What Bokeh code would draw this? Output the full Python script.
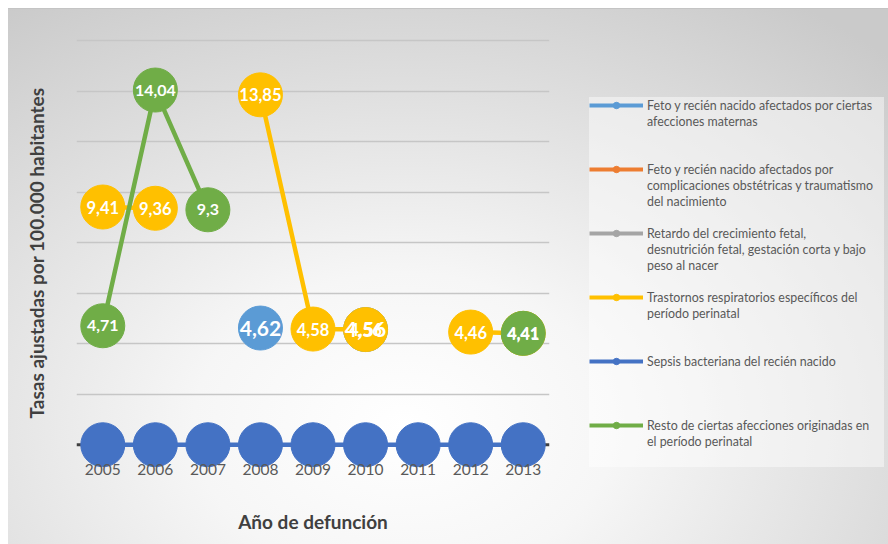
import math
from bokeh.plotting import figure
from bokeh.layouts import row
from bokeh.models import (FactorRange, Range1d, Span, Legend, LegendItem,
                          ColumnDataSource, FixedTicker)
from bokeh.core.properties import value
from bokeh.embed import file_html
from bokeh.resources import INLINE

nan = float("nan")

years = ["2005", "2006", "2007", "2008", "2009", "2010", "2011", "2012", "2013"]

feto_maternas = [nan, nan, nan, 4.62, nan, 4.56, nan, nan, nan]
feto_complicaciones = [nan, nan, nan, nan, nan, nan, nan, nan, nan]
retardo = [nan, nan, nan, nan, nan, nan, nan, nan, nan]
trastornos = [9.41, 9.36, nan, 13.85, 4.58, 4.56, nan, 4.46, 4.41]
sepsis = [0, 0, 0, 0, 0, 0, 0, 0, 0]
resto = [4.71, 14.04, 9.3, nan, nan, nan, nan, nan, 4.41]

series_values = [feto_maternas, feto_complicaciones, retardo, trastornos, sepsis, resto]
series_colors = ["#5B9BD5", "#ED7D31", "#A5A5A5", "#FFC000", "#4472C4", "#70AD47"]
legend_lines = [
    ["Feto y recién nacido afectados por ciertas", "afecciones maternas"],
    ["Feto y recién nacido afectados por", "complicaciones obstétricas y traumatismo", "del nacimiento"],
    ["Retardo del crecimiento fetal,", "desnutrición fetal, gestación corta y bajo", "peso al nacer"],
    ["Trastornos respiratorios específicos del", "período perinatal"],
    ["Sepsis bacteriana del recién nacido"],
    ["Resto de ciertas afecciones originadas en", "el período perinatal"],
]
label_font_sizes = ["21px", "16px", "16px", "16.5px", None, "16px"]
grid_ticks = [2, 4, 6, 8, 10, 12, 14, 16]

FONT = "Lato"

p = figure(width=552, height=536, x_range=FactorRange(*years), y_range=Range1d(-0.9, 16.08),
           output_backend="svg", toolbar_location=None,
           min_border_left=68, min_border_right=11, min_border_top=30, min_border_bottom=77)
p.background_fill_color = None
p.border_fill_color = None
p.outline_line_color = None

p.xgrid.grid_line_color = None
p.ygrid.ticker = FixedTicker(ticks=grid_ticks)
p.ygrid.grid_line_color = "#c6c6c6"
p.ygrid.grid_line_width = 1.5

p.yaxis.ticker = FixedTicker(ticks=grid_ticks)
p.yaxis.major_label_text_font_size = "0px"
p.yaxis.major_tick_line_color = None
p.yaxis.minor_tick_line_color = None
p.yaxis.axis_line_color = None
p.yaxis.major_label_standoff = 0
p.yaxis.axis_label = "Tasas ajustadas por 100.000 habitantes"
p.yaxis.axis_label_text_font = FONT
p.yaxis.axis_label_text_font_style = "bold"
p.yaxis.axis_label_text_font_size = "19px"
p.yaxis.axis_label_text_color = "#404040"
p.yaxis.axis_label_standoff = 23

p.xaxis.axis_line_color = None
p.xaxis.major_tick_line_color = None
p.xaxis.minor_tick_line_color = None
p.xaxis.major_label_standoff = -10
p.xaxis.major_label_text_font = FONT
p.xaxis.major_label_text_font_size = "15.5px"
p.xaxis.major_label_text_color = "#595959"
p.xaxis.axis_label = "Año de defunción"
p.xaxis.axis_label_text_font = FONT
p.xaxis.axis_label_text_font_style = "bold"
p.xaxis.axis_label_text_font_size = "19px"
p.xaxis.axis_label_text_color = "#404040"
p.xaxis.axis_label_standoff = 32

p.add_layout(Span(location=0, dimension="width", line_color="#404040", line_width=3, level="underlay"))

for vals, col in zip(series_values, series_colors):
    src = ColumnDataSource(dict(x=years, y=vals))
    p.line("x", "y", source=src, line_color=col, line_width=4.5)
    p.scatter("x", "y", source=src, size=44, fill_color=col, line_color=col)

for vals, fs in zip(series_values, label_font_sizes):
    if fs is None:
        continue
    xs = [x for x, v in zip(years, vals) if not math.isnan(v)]
    ys = [v for v in vals if not math.isnan(v)]
    ts = [str(v).replace(".", ",") for v in ys]
    p.text(x=xs, y=ys, text=ts, text_color="white", text_font=value(FONT),
           text_font_style="bold", text_font_size=fs, text_align="center",
           text_baseline="middle")

# legend panel (separate figure holding legend proxies)
q = figure(width=328, height=536, x_range=Range1d(0, 1), y_range=Range1d(0, 1),
           output_backend="svg", toolbar_location=None,
           min_border_left=0, min_border_right=0, min_border_top=0, min_border_bottom=0)
q.axis.visible = False
q.grid.grid_line_color = None
q.background_fill_color = None
q.border_fill_color = None
q.outline_line_color = None

dummy = q.line(x=[nan], y=[nan], line_alpha=0)
items = []
for col, lines in zip(series_colors, legend_lines):
    lr = q.line(x=[nan], y=[nan], line_color=col, line_width=4)
    sr = q.scatter(x=[nan], y=[nan], size=44, fill_color=col, line_color=col)
    items.append(LegendItem(label=lines[0], renderers=[lr, sr]))
    for ln in lines[1:]:
        items.append(LegendItem(label=ln, renderers=[dummy]))
    for _ in range(4 - len(lines)):
        items.append(LegendItem(label=" ", renderers=[dummy]))

legend = Legend(items=items, location=(29, -14), margin=0, padding=10, spacing=0,
                glyph_width=54, glyph_height=16, label_height=16, label_standoff=4,
                label_width=237,
                label_text_font=FONT, label_text_font_size="12.4px",
                label_text_color="#595959", background_fill_color="white",
                background_fill_alpha=0.45, border_line_color=None)
q.add_layout(legend, "center")

layout = row(p, q, spacing=0)
layout.margin = (8, 0, 0, 8)
layout.styles = {"background": "radial-gradient(ellipse 80% 95% at 45% 78%, #ffffff 0%, #f6f6f6 30%, #cacaca 100%)",
                 "box-shadow": "inset 0 1px 0 #c4c4c4"}

open("out.html", "w").write(file_html(layout, INLINE))
